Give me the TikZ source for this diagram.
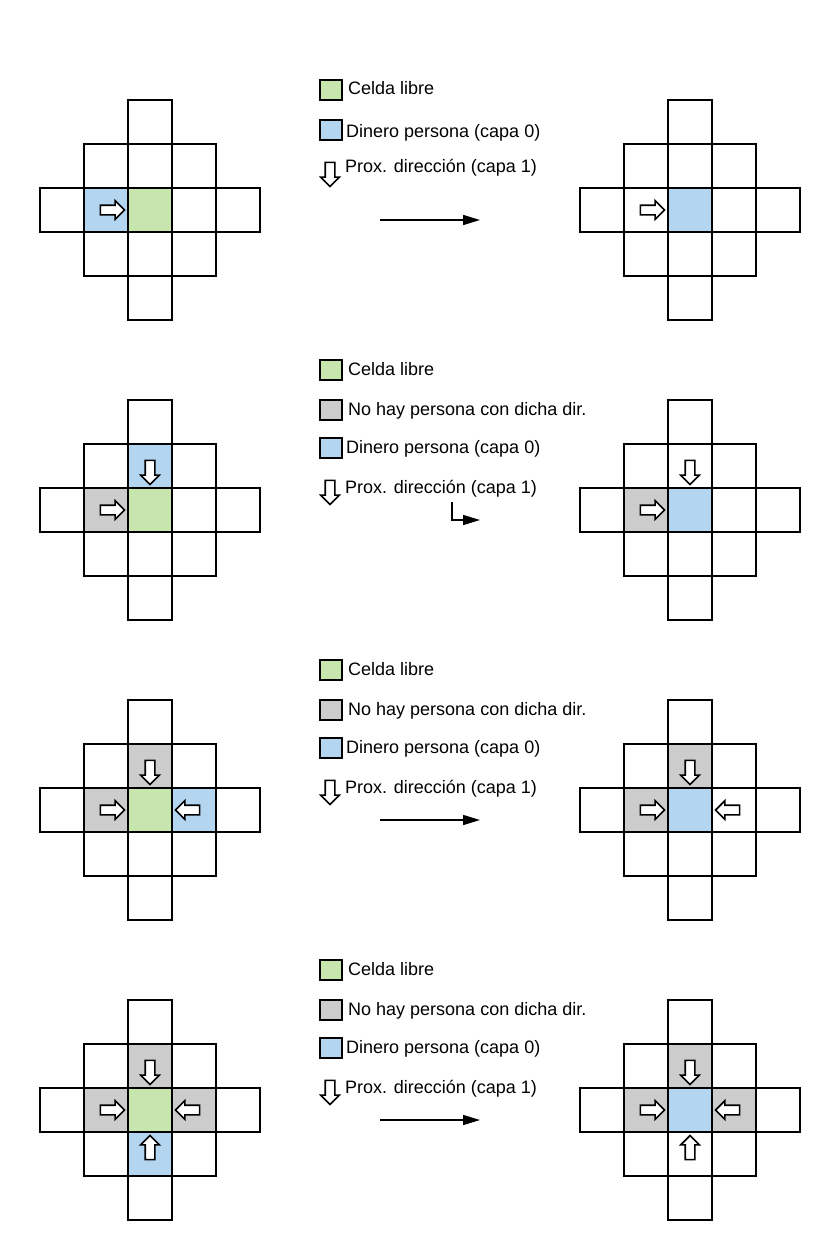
\documentclass[tikz,border=0pt]{standalone}
\usepackage{fontspec}
\setmainfont{Liberation Sans}
\usetikzlibrary{positioning,shapes.arrows,arrows.meta}

\definecolor{verde}{RGB}{199,230,174}
\definecolor{azul}{RGB}{180,213,240}
\definecolor{gris}{RGB}{204,204,204}

\tikzset{
  celda/.style={draw, line width=2pt, minimum size=44pt, inner sep=0pt, fill=white},
  cuadro/.style={draw, line width=2pt, minimum width=22pt, minimum height=20pt, inner sep=0pt},
  texto/.style={anchor=base west, inner sep=0pt, font=\fontsize{18}{21}\selectfont},
  flecha/.style={single arrow, draw, fill=white, line width=1.6pt, inner sep=4pt,
    minimum height=24pt, single arrow head extend=4.5pt},
  paso/.style={line width=1.5pt, -{Triangle[length=17pt,width=10pt]}}
}

% rejilla en cruz: nombre, x, y, celdas con color (c/f/color)
\newcommand\rejilla[4]{%
  \foreach \c/\r in {2/0,1/1,2/1,3/1,0/2,1/2,2/2,3/2,4/2,1/3,2/3,3/3,2/4}{%
    \gdef\relleno{white}%
    \foreach \cc/\rr/\k in {#4}{\ifnum\cc=\c\relax\ifnum\rr=\r\relax\xdef\relleno{\k}\fi\fi}%
    \node[celda, fill=\relleno] (#1-\c-\r) at (#2+44*\c+22, #3+44*\r+22) {};
  }}

\begin{document}
\begin{tikzpicture}[x=1pt, y=-1pt]
  \path[use as bounding box] (0,0) rectangle (840,1260);

  % paso 1
  \rejilla{p1i}{40}{100}{1/2/azul,2/2/verde}
  \rejilla{p1d}{580}{100}{2/2/azul}
  \node[flecha] at ([xshift=4pt]p1i-1-2) (p1i-f1) {};
  \node[flecha] at ([xshift=4pt]p1d-1-2) (p1d-f1) {};
  \node[cuadro, fill=verde] at (331,90) (l1-verde) {};
  \node[texto] at (348,95) (l1-t1) {Celda libre};
  \node[cuadro, fill=azul] at (331,130) (l1-azul) {};
  \node[texto] at (346,138) (l1-t2) {Dinero persona (capa 0)};
  \node[flecha, rotate=-90] at (330,172) (l1-flecha) {};
  \node[texto] at (345,173) (l1-t3) {Prox. dirección (capa 1)};
  \coordinate (p1-a) at (380,220);
  \coordinate (p1-b) at (480,220);
  \draw[paso] (p1-a) -- (p1-b);

  % paso 2
  \rejilla{p2i}{40}{400}{2/1/azul,1/2/gris,2/2/verde}
  \rejilla{p2d}{580}{400}{1/2/gris,2/2/azul}
  \node[flecha, rotate=-90] at ([yshift=-4pt]p2i-2-1) (p2i-f1) {};
  \node[flecha] at ([xshift=4pt]p2i-1-2) (p2i-f2) {};
  \node[flecha, rotate=-90] at ([yshift=-4pt]p2d-2-1) (p2d-f1) {};
  \node[flecha] at ([xshift=4pt]p2d-1-2) (p2d-f2) {};
  \node[cuadro, fill=verde] at (331,370) (l2-verde) {};
  \node[texto] at (348,375) (l2-t1) {Celda libre};
  \node[cuadro, fill=gris] at (331,410) (l2-gris) {};
  \node[texto] at (348,415) (l2-t2) {No hay persona con dicha dir.};
  \node[cuadro, fill=azul] at (331,448) (l2-azul) {};
  \node[texto] at (346,453) (l2-t3) {Dinero persona (capa 0)};
  \node[flecha, rotate=-90] at (330,490) (l2-flecha) {};
  \node[texto] at (345,493) (l2-t4) {Prox. dirección (capa 1)};
  \coordinate (p2-a) at (452,502);
  \coordinate (p2-b) at (480,520);
  \draw[paso] (p2-a) |- (p2-b);

  % paso 3
  \rejilla{p3i}{40}{700}{2/1/gris,1/2/gris,2/2/verde,3/2/azul}
  \rejilla{p3d}{580}{700}{2/1/gris,1/2/gris,2/2/azul}
  \node[flecha, rotate=-90] at ([yshift=-4pt]p3i-2-1) (p3i-f1) {};
  \node[flecha] at ([xshift=4pt]p3i-1-2) (p3i-f2) {};
  \node[flecha, rotate=180] at ([xshift=-4pt]p3i-3-2) (p3i-f3) {};
  \node[flecha, rotate=-90] at ([yshift=-4pt]p3d-2-1) (p3d-f1) {};
  \node[flecha] at ([xshift=4pt]p3d-1-2) (p3d-f2) {};
  \node[flecha, rotate=180] at ([xshift=-4pt]p3d-3-2) (p3d-f3) {};
  \node[cuadro, fill=verde] at (331,670) (l3-verde) {};
  \node[texto] at (348,675) (l3-t1) {Celda libre};
  \node[cuadro, fill=gris] at (331,710) (l3-gris) {};
  \node[texto] at (348,715) (l3-t2) {No hay persona con dicha dir.};
  \node[cuadro, fill=azul] at (331,748) (l3-azul) {};
  \node[texto] at (346,753) (l3-t3) {Dinero persona (capa 0)};
  \node[flecha, rotate=-90] at (330,790) (l3-flecha) {};
  \node[texto] at (345,793) (l3-t4) {Prox. dirección (capa 1)};
  \coordinate (p3-a) at (380,820);
  \coordinate (p3-b) at (480,820);
  \draw[paso] (p3-a) -- (p3-b);

  % paso 4
  \rejilla{p4i}{40}{1000}{2/1/gris,1/2/gris,2/2/verde,3/2/gris,2/3/azul}
  \rejilla{p4d}{580}{1000}{2/1/gris,1/2/gris,2/2/azul,3/2/gris}
  \node[flecha, rotate=-90] at ([yshift=-4pt]p4i-2-1) (p4i-f1) {};
  \node[flecha] at ([xshift=4pt]p4i-1-2) (p4i-f2) {};
  \node[flecha, rotate=180] at ([xshift=-4pt]p4i-3-2) (p4i-f3) {};
  \node[flecha, rotate=90] at ([yshift=4pt]p4i-2-3) (p4i-f4) {};
  \node[flecha, rotate=-90] at ([yshift=-4pt]p4d-2-1) (p4d-f1) {};
  \node[flecha] at ([xshift=4pt]p4d-1-2) (p4d-f2) {};
  \node[flecha, rotate=180] at ([xshift=-4pt]p4d-3-2) (p4d-f3) {};
  \node[flecha, rotate=90] at ([yshift=4pt]p4d-2-3) (p4d-f4) {};
  \node[cuadro, fill=verde] at (331,970) (l4-verde) {};
  \node[texto] at (348,975) (l4-t1) {Celda libre};
  \node[cuadro, fill=gris] at (331,1010) (l4-gris) {};
  \node[texto] at (348,1015) (l4-t2) {No hay persona con dicha dir.};
  \node[cuadro, fill=azul] at (331,1048) (l4-azul) {};
  \node[texto] at (346,1053) (l4-t3) {Dinero persona (capa 0)};
  \node[flecha, rotate=-90] at (330,1090) (l4-flecha) {};
  \node[texto] at (345,1093) (l4-t4) {Prox. dirección (capa 1)};
  \coordinate (p4-a) at (380,1120);
  \coordinate (p4-b) at (480,1120);
  \draw[paso] (p4-a) -- (p4-b);
\end{tikzpicture}
\end{document}
